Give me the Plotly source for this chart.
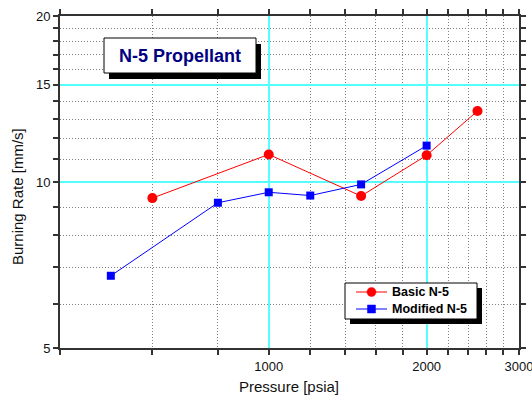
import numpy as np
import plotly.graph_objects as go

# ---- data ----
basic_p = [600, 1000, 1500, 2000, 2500]
basic_r = [9.35, 11.22, 9.43, 11.18, 13.45]
mod_p = [500, 800, 1000, 1200, 1500, 2000]
mod_r = [6.76, 9.17, 9.58, 9.45, 9.9, 11.64]

series_names = ["Basic N-5", "Modified N-5"]
series_colors = ["#FF0000", "#0000FF"]

x_major = [1000, 2000, 3000]
x_minor = [400, 600, 800, 1200, 1400, 1600, 1800, 2200, 2400, 2600, 2800]
y_major = [5, 10, 15, 20]
y_minor = [6, 7, 8, 9, 11, 12, 13, 14, 16, 17, 18, 19]

W, H = 532, 400
L, R, T, B = 60, 519, 16, 348


def px(x):
    return (x - L) / (R - L)


def py(y):
    return (B - y) / (B - T)


FONT = "Liberation Sans, Arial, sans-serif"

fig = go.Figure()
fig.add_trace(go.Scatter(x=basic_p, y=basic_r, mode="lines+markers", name=series_names[0],
                         line=dict(color=series_colors[0], width=1),
                         marker=dict(symbol="circle", size=10, color=series_colors[0])))
fig.add_trace(go.Scatter(x=mod_p, y=mod_r, mode="lines+markers", name=series_names[1],
                         line=dict(color=series_colors[1], width=1),
                         marker=dict(symbol="square", size=8, color=series_colors[1])))

axis_common = dict(
    type="log", showline=True, linecolor="#333333", linewidth=2, mirror="allticks",
    ticks="outside", ticklen=5, tickwidth=1.5, tickcolor="#333333",
    showgrid=True, gridcolor="#55FFFF", gridwidth=2, zeroline=False, automargin=False,
    ticklabeloverflow="allow",
    tickfont=dict(family=FONT, size=13, color="#111111"),
)
minor_common = dict(tickmode="array", ticks="outside", ticklen=5, tickcolor="#333333",
                    showgrid=True, gridcolor="#808080", griddash="1px,2px", gridwidth=1)

fig.update_xaxes(**axis_common, range=[np.log10(400), np.log10(3000)],
                 tickmode="array", tickvals=x_major, ticktext=[str(v) for v in x_major],
                 minor=dict(tickvals=x_minor, **minor_common))
fig.update_yaxes(**axis_common, range=[np.log10(5), np.log10(20)],
                 tickmode="array", tickvals=y_major, ticktext=[str(v) for v in y_major],
                 minor=dict(tickvals=y_minor, **minor_common))

shapes = [
    # title box shadow and box
    dict(type="rect", xref="paper", yref="paper", x0=px(109), x1=px(261), y0=py(79), y1=py(44),
         fillcolor="black", line=dict(width=0), layer="above"),
    dict(type="rect", xref="paper", yref="paper", x0=px(104), x1=px(256), y0=py(73), y1=py(38),
         fillcolor="white", line=dict(color="black", width=1), layer="above"),
    # legend shadow and box
    dict(type="rect", xref="paper", yref="paper", x0=px(350), x1=px(482), y0=py(324), y1=py(288),
         fillcolor="black", line=dict(width=0), layer="above"),
    dict(type="rect", xref="paper", yref="paper", x0=px(345), x1=px(477), y0=py(319), y1=py(283),
         fillcolor="white", line=dict(color="black", width=1), layer="above"),
]

annotations = [
    dict(text="<b>N-5 Propellant</b>", xref="paper", yref="paper", x=px(180), y=py(56),
         xanchor="center", yanchor="middle", showarrow=False,
         font=dict(family=FONT, size=18, color="#000080")),
    dict(text="Burning Rate [mm/s]", xref="paper", yref="paper", x=px(17), y=py(197),
         xanchor="center", yanchor="middle", textangle=-90, showarrow=False,
         font=dict(family=FONT, size=15, color="#111111")),
    dict(text="Pressure [psia]", xref="paper", yref="paper", x=px(289), y=py(386),
         xanchor="center", yanchor="middle", showarrow=False,
         font=dict(family=FONT, size=15, color="#111111")),
]

# custom legend entries
row_y = [292, 309]
symbols = ["circle", "square"]
for name, color, ry, sym in zip(series_names, series_colors, row_y, symbols):
    shapes.append(dict(type="line", xref="paper", yref="paper", x0=px(356), x1=px(387),
                       y0=py(ry), y1=py(ry), line=dict(color=color, width=1), layer="above"))
    r = 4.5 if sym == "circle" else 4
    shapes.append(dict(type="circle" if sym == "circle" else "rect", xref="paper", yref="paper",
                       x0=px(371.5 - r), x1=px(371.5 + r), y0=py(ry + r), y1=py(ry - r),
                       fillcolor=color, line=dict(color=color, width=0.5), layer="above"))
    annotations.append(dict(text="<b>%s</b>" % name, xref="paper", yref="paper", x=px(390), y=py(ry),
                            xanchor="left", yanchor="middle", showarrow=False,
                            font=dict(family=FONT, size=12.5, color="black")))

fig.update_layout(
    width=W, height=H,
    margin=dict(l=L, r=W - R, t=T, b=H - B, autoexpand=False),
    paper_bgcolor="white", plot_bgcolor="white",
    shapes=shapes, annotations=annotations,
    showlegend=False,
)

fig.write_html("out.html", config={"displayModeBar": False},
               post_script="document.body.style.margin='0';document.body.style.padding='0';")
